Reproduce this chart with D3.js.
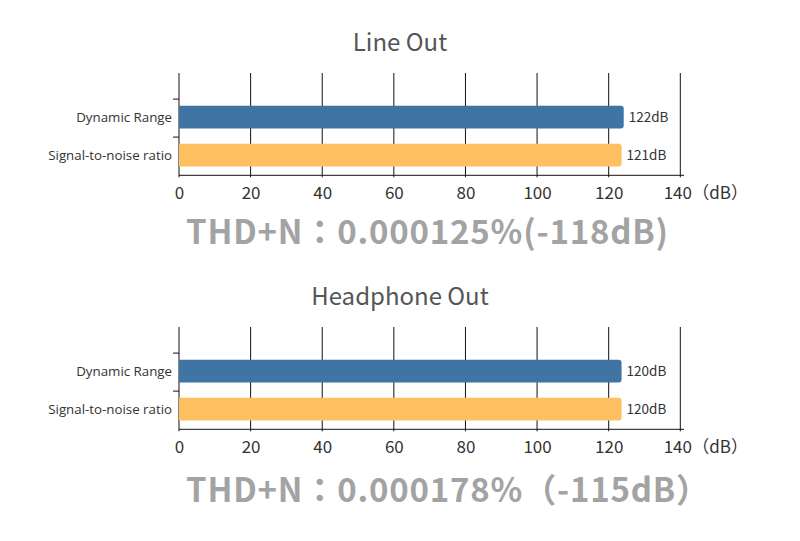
<!DOCTYPE html>
<html>
<head>
<meta charset="utf-8">
<script src="https://cdn.jsdelivr.net/npm/d3@7"></script>
<style>
  html, body { margin: 0; padding: 0; background: #fff; }
  svg { display: block; }
</style>
</head>
<body>
<svg id="chart" width="800" height="541"></svg>
<script>
// ---- data ----
const categories = ["Dynamic Range", "Signal-to-noise ratio"];
const panelTitles = ["Line Out", "Headphone Out"];
const lineOutValues = [124.2, 123.6];
const lineOutLabels = ["122dB", "121dB"];
const headphoneValues = [123.6, 123.6];
const headphoneLabels = ["120dB", "120dB"];
const xTicks = [0, 20, 40, 60, 80, 100, 120, 140];
const xUnit = "（dB）";
const thdTexts = ["THD+N：0.000125%(-118dB)", "THD+N：0.000178%（-115dB）"];
const barColors = ["#3f74a5", "#fdbf60"];

const svg = d3.select("#chart");
const CJK = "'Noto Sans CJK TC', 'Noto Sans', sans-serif";

const x = d3.scaleLinear().domain([0, 140]).range([179, 680.3]);

function barPath(x0, y0, w, h, r) {
  return `M${x0},${y0}H${x0 + w - r}Q${x0 + w},${y0} ${x0 + w},${y0 + r}` +
         `V${y0 + h - r}Q${x0 + w},${y0 + h} ${x0 + w - r},${y0 + h}H${x0}Z`;
}

function drawPanel(offsetY, title, values, labels, thd, thdY) {
  const g = svg.append("g").attr("transform", `translate(0,${offsetY})`);
  const gridTop = 73, axisY = 175.3;

  const y = d3.scaleBand().domain(categories).range([98.1, 174.1])
    .paddingInner(0.4).paddingOuter(0.2);

  // title
  g.append("text").attr("x", 400).attr("y", 51)
    .attr("text-anchor", "middle")
    .style("font-family", CJK).style("font-size", "24px").attr("fill", "#555")
    .text(title);

  // vertical grid lines
  g.selectAll("line.grid").data(xTicks).join("line")
    .attr("class", "grid")
    .attr("x1", d => x(d)).attr("x2", d => x(d))
    .attr("y1", gridTop).attr("y2", axisY + 2)
    .attr("stroke", "#111").attr("stroke-width", 1);

  // x axis
  const axis = d3.axisBottom(x).tickValues(xTicks).tickSize(0).tickPadding(12)
    .tickFormat(d3.format("d"));
  const ax = g.append("g").attr("transform", `translate(0,${axisY})`).call(axis);
  ax.select(".domain").attr("d", `M179,0H684`).attr("stroke", "#111");
  ax.selectAll("text").style("font-family", CJK).style("font-size", "17px")
    .attr("fill", "#333").attr("dy", "0.71em");
  ax.selectAll(".tick").filter(d => d === 140).select("text").attr("dx", "-3");
  g.append("text").attr("x", x(140) + 12).attr("y", axisY + 12).attr("dy", "0.71em")
    .style("font-family", CJK).style("font-size", "17px").attr("fill", "#333")
    .text(xUnit);

  // y ticks
  g.selectAll("line.ytick").data(categories).join("line")
    .attr("class", "ytick")
    .attr("x1", 173).attr("x2", 179)
    .attr("y1", d => y(d) - y.step() * 0.2 + 1).attr("y2", d => y(d) - y.step() * 0.2 + 1)
    .attr("stroke", "#111");

  // category labels
  g.selectAll("text.cat").data(categories).join("text")
    .attr("class", "cat")
    .attr("x", 172).attr("y", d => y(d) + y.bandwidth() / 2)
    .attr("dy", "0.35em").attr("text-anchor", "end")
    .style("font-family", "'Open Sans', sans-serif").style("font-size", "13.3px")
    .attr("fill", "#333").text(d => d);

  // bars
  g.selectAll("path.bar").data(values).join("path")
    .attr("class", "bar")
    .attr("d", (v, i) => barPath(x(0), y(categories[i]), x(v) - x(0), y.bandwidth(), 3))
    .attr("fill", (v, i) => barColors[i]);

  // value labels
  g.selectAll("text.val").data(values).join("text")
    .attr("class", "val")
    .attr("x", v => x(v) + 5).attr("y", (v, i) => y(categories[i]) + y.bandwidth() / 2)
    .attr("dy", "0.35em")
    .style("font-family", CJK).style("font-size", "13.5px").attr("fill", "#333")
    .text((v, i) => labels[i]);

  // THD text
  svg.append("text").attr("x", 186).attr("y", thdY)
    .style("font-family", CJK).style("font-size", "33px").style("font-weight", "700")
    .style("letter-spacing", "0.8px")
    .attr("fill", "#a3a3a3").text(thd);
}

drawPanel(0, panelTitles[0], lineOutValues, lineOutLabels, thdTexts[0], 244);
drawPanel(254, panelTitles[1], headphoneValues, headphoneLabels, thdTexts[1], 502);
</script>
</body>
</html>
